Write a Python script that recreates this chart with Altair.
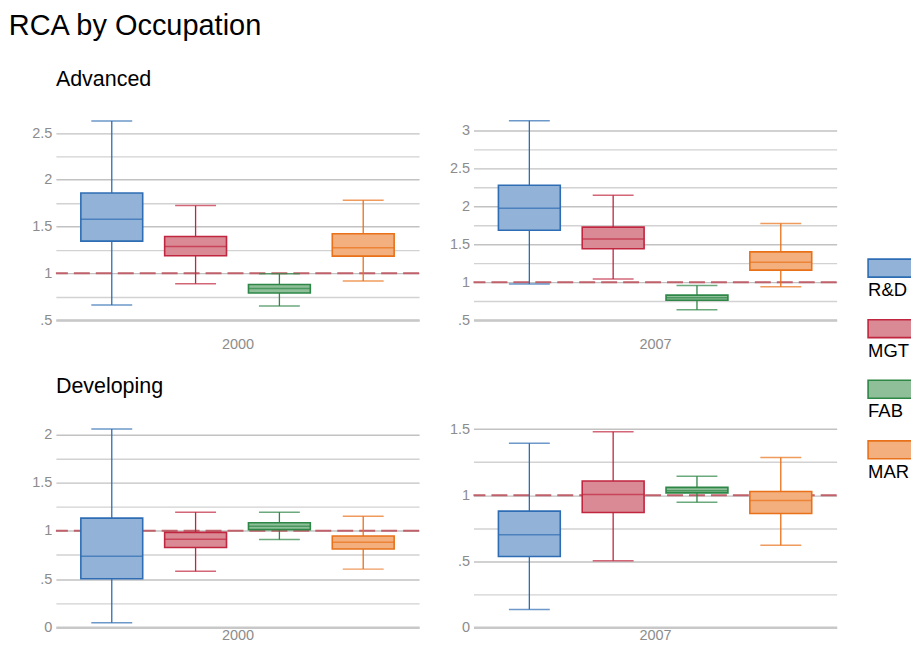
import altair as alt
import pandas as pd

occupations = ["R&D", "MGT", "FAB", "MAR"]
dark_colors = ["#2e6db4", "#c0263f", "#2e8647", "#e8711a"]
light_colors = ["#92b2d7", "#da8a94", "#8fbf99", "#f3b07e"]

# Advanced, 2000
adv2000_lower = [0.66, 0.888, 0.65, 0.917]
adv2000_q1 = [1.344, 1.187, 0.789, 1.183]
adv2000_median = [1.579, 1.286, 0.838, 1.272]
adv2000_q3 = [1.859, 1.393, 0.880, 1.422]
adv2000_upper = [2.628, 1.724, 0.995, 1.781]

# Advanced, 2007
adv2007_lower = [0.974, 1.040, 0.637, 0.940]
adv2007_q1 = [1.686, 1.440, 0.760, 1.159]
adv2007_median = [1.976, 1.568, 0.795, 1.264]
adv2007_q3 = [2.279, 1.726, 0.829, 1.400]
adv2007_upper = [3.132, 2.147, 0.957, 1.774]

# Developing, 2000
dev2000_lower = [0.048, 0.580, 0.909, 0.603]
dev2000_q1 = [0.504, 0.827, 1.012, 0.812]
dev2000_median = [0.737, 0.912, 1.046, 0.881]
dev2000_q3 = [1.131, 0.984, 1.084, 0.946]
dev2000_upper = [2.055, 1.193, 1.193, 1.152]

# Developing, 2007
dev2007_lower = [0.135, 0.503, 0.946, 0.621]
dev2007_q1 = [0.536, 0.869, 1.017, 0.861]
dev2007_median = [0.701, 1.004, 1.034, 0.959]
dev2007_q3 = [0.879, 1.107, 1.059, 1.027]
dev2007_upper = [1.393, 1.480, 1.142, 1.284]

# y-axis ticks (gridlines every .25, labels every .5)
adv2000_ticks = [0.5, 0.75, 1.0, 1.25, 1.5, 1.75, 2.0, 2.25, 2.5]
adv2007_ticks = [0.5, 0.75, 1.0, 1.25, 1.5, 1.75, 2.0, 2.25, 2.5, 2.75, 3.0]
dev2000_ticks = [0.0, 0.25, 0.5, 0.75, 1.0, 1.25, 1.5, 1.75, 2.0]
dev2007_ticks = [0.0, 0.25, 0.5, 0.75, 1.0, 1.25, 1.5]
reference_value = [1.0]

FONT = "Liberation Sans"
GRAY = "#8c8c8c"
W, H = 364, 208

label_expr = ("datum.value % 0.5 == 0 ? "
              "replace(format(datum.value, '~g'), /^0\\./, '.') : ''")
grid_color = {"condition": {"test": "datum.value % 0.5 == 0", "value": "#c2c2c2"},
              "value": "#d2d2d2"}


def panel(lower, q1, med, q3, upper, ydomain, ticks, year, title, show_title, tpad):
    df = pd.DataFrame({"occ": occupations, "lower": lower, "q1": q1,
                       "median": med, "q3": q3, "upper": upper})
    xenc = alt.X("occ:N", sort=occupations,
                 scale=alt.Scale(paddingInner=0, paddingOuter=1 / 6),
                 axis=alt.Axis(title=year, labels=False, ticks=False, grid=False,
                               domain=True, domainColor="#c8c8c8", domainWidth=2.5,
                               titleColor=GRAY, titleFontSize=14.5,
                               titleFontWeight="normal", titleFont=FONT,
                               titlePadding=tpad))
    yscale = alt.Scale(domain=ydomain, nice=False, zero=False)
    yaxis = alt.Axis(values=ticks, format="~g", labelExpr=label_expr, title=None,
                     domain=False, ticks=False, grid=True, gridColor=grid_color,
                     gridWidth=1.4, labelColor=GRAY, labelFontSize=14.5,
                     labelFont=FONT, labelPadding=4)
    col = alt.Color("occ:N", sort=occupations,
                    scale=alt.Scale(domain=occupations, range=dark_colors), legend=None)
    base = alt.Chart(df).encode(x=xenc)

    ref = alt.Chart(pd.DataFrame({"ref": reference_value})).mark_rule(
        color="#c0606a", strokeDash=[16, 6], strokeWidth=2
    ).encode(y=alt.Y("ref:Q", scale=yscale, axis=yaxis))

    whisker = base.mark_rule(strokeWidth=1.3).encode(
        y=alt.Y("lower:Q", scale=yscale, axis=yaxis), y2="upper:Q", color=col)
    box = base.mark_bar(size=62, strokeWidth=1.6).encode(
        y=alt.Y("q1:Q", scale=yscale, axis=yaxis), y2="q3:Q",
        fill=alt.Fill("occ:N", sort=occupations,
                      scale=alt.Scale(domain=occupations, range=light_colors),
                      legend=None),
        stroke=alt.Stroke("occ:N", sort=occupations,
                          scale=alt.Scale(domain=occupations, range=dark_colors),
                          legend=None))
    median = base.mark_tick(size=62, thickness=1.5).encode(
        y=alt.Y("median:Q", scale=yscale, axis=yaxis), color=col)
    cap_lo = base.mark_tick(size=41, thickness=1.5).encode(
        y=alt.Y("lower:Q", scale=yscale, axis=yaxis), color=col)
    cap_hi = base.mark_tick(size=41, thickness=1.5).encode(
        y=alt.Y("upper:Q", scale=yscale, axis=yaxis), color=col)

    return alt.layer(ref, whisker, box, median, cap_lo, cap_hi).properties(
        width=W, height=H,
        title=alt.TitleParams(title, anchor="start", frame="group", fontSize=21.5,
                              font=FONT, fontWeight="normal",
                              color="black" if show_title else "transparent",
                              baseline="top", offset=22))


p1 = panel(adv2000_lower, adv2000_q1, adv2000_median, adv2000_q3, adv2000_upper,
           [0.5, 2.72], adv2000_ticks, "2000", "Advanced", True, 18)
p2 = panel(adv2007_lower, adv2007_q1, adv2007_median, adv2007_q3, adv2007_upper,
           [0.5, 3.24], adv2007_ticks, "2007", "Advanced", False, 18)
p3 = panel(dev2000_lower, dev2000_q1, dev2000_median, dev2000_q3, dev2000_upper,
           [0.0, 2.15], dev2000_ticks, "2000", "Developing", True, 1)
p4 = panel(dev2007_lower, dev2007_q1, dev2007_median, dev2007_q3, dev2007_upper,
           [0.0, 1.57], dev2007_ticks, "2007", "Developing", False, 1)

row1 = alt.hconcat(p1, p2, spacing=28.5)
row2 = alt.hconcat(p3, p4, spacing=28.5)
grid = alt.vconcat(row1, row2, spacing=24)

# custom legend: wide swatch with label underneath
leg_df = pd.DataFrame({"occ": occupations})
step = 60.7
pin = 1 - 18 / step
leg_top = 262 - 115
leg_y = alt.Y("occ:N", sort=occupations,
              scale=alt.Scale(domain=occupations, paddingInner=pin, paddingOuter=0,
                              range=[leg_top, leg_top + step * (4 - pin)]),
              axis=None)
leg_rect = alt.Chart(leg_df).mark_rect(strokeWidth=1.6).encode(
    y=leg_y,
    fill=alt.Fill("occ:N", sort=occupations,
                  scale=alt.Scale(domain=occupations, range=light_colors), legend=None),
    stroke=alt.Stroke("occ:N", sort=occupations,
                      scale=alt.Scale(domain=occupations, range=dark_colors), legend=None))
leg_text = alt.Chart(leg_df).mark_text(
    align="left", baseline="alphabetic", dy=28, fontSize=18.5, font=FONT, color="black"
).encode(y=leg_y, x=alt.value(0), text="occ:N")
legend = alt.layer(leg_rect, leg_text).properties(width=45, height=380)

chart = alt.hconcat(grid, legend, spacing=29).properties(
    title=alt.TitleParams("RCA by Occupation", anchor="start", fontSize=29, font=FONT,
                          fontWeight="normal", color="black", baseline="top",
                          dx=-23, offset=28),
    padding={"left": 0, "top": 3, "right": -3, "bottom": 0},
    background="white",
).resolve_scale(fill="independent", stroke="independent", color="independent"
).configure_view(stroke=None)

chart.save("out.html", embed_options={"renderer": "svg", "actions": False})
